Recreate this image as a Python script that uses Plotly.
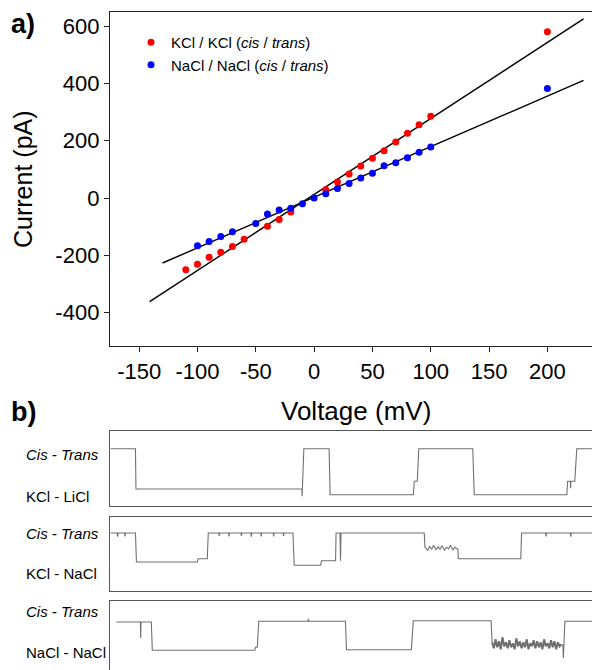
import plotly.graph_objects as go

W, H = 600, 670
FONT = "Arial, Liberation Sans, sans-serif"

# ---------------- Panel a data ----------------
kcl_v = [-110, -100, -90, -80, -70, -60, -40, -30, -20, 10, 20, 30, 40, 50, 60, 70, 80, 90, 100, 200]
kcl_i = [-251, -231, -207, -189, -169, -144, -99, -75, -49, 29, 56, 84, 112, 139, 165, 196, 226, 256, 286, 581]
nacl_v = [-100, -90, -80, -70, -50, -40, -30, -20, -10, 0, 10, 20, 30, 40, 50, 60, 70, 80, 90, 100, 200]
nacl_i = [-167, -152, -134, -118, -89, -56, -42, -36, -20, 0, 15, 33, 51, 70, 87, 113, 123, 141, 160, 178, 383]

kcl_fit_v = [-141, 231]
kcl_fit_i = [-362, 626]
nacl_fit_v = [-130, 231]
nacl_fit_i = [-227, 411]

x_ticks = [-150, -100, -50, 0, 50, 100, 150, 200]
x_ticklabels = ["-150", "-100", "-50", "0", "50", "100", "150", "200"]
y_ticks = [-400, -200, 0, 200, 400, 600]
y_ticklabels = ["-400", "-200", "0", "200", "400", "600"]

# ---------------- Panel b data (time in a.u., current in a.u.) ----------------
t1 = [0.2, 5.2, 5.3, 38.8, 38.85, 38.9, 39.2, 44.3, 44.5, 61.3, 61.5, 62.1, 62.4,
      73.3, 73.6, 92.3, 92.45, 93.0, 93.05, 93.1, 93.9, 94.3, 99.7]
i1 = [57.6, 57.6, 17.3, 17.3, 10, 17.3, 57.6, 57.6, 11.6, 11.6, 25, 25, 57.6,
      57.6, 11.6, 11.6, 25, 25, 18, 25, 25, 57.6, 57.6]

t2 = [0.2, 1.5, 1.6, 1.7, 3.0, 3.1, 3.2, 5.2, 5.4, 17.7, 17.85, 19.7, 19.9,
      22.0, 22.1, 22.2, 24.0, 24.1, 24.2, 26.5, 26.6, 26.7, 28.5, 28.6, 28.7,
      30.5, 30.6, 30.7, 33.0, 33.1, 33.2, 35.0, 35.1, 35.2, 37.0, 37.25, 42.6, 42.75,
      45.6, 45.7, 46.5, 46.6, 46.7, 63.5, 63.65,
      64.2, 64.6, 65.0, 65.4, 65.9, 66.3, 66.7, 67.1, 67.6, 68.0, 68.4, 68.8, 69.3, 69.7, 70.2,
      70.3, 70.4, 83.0, 83.15, 88.0, 88.1, 88.2, 93.0, 93.1, 93.2, 97.6]
i2 = [58.3, 58.3, 54.5, 58.3, 58.3, 55, 58.3, 58.3, 29.3, 29.3, 32.6, 32.6, 58.3,
      58.3, 55.5, 58.3, 58.3, 55, 58.3, 58.3, 55.5, 58.3, 58.3, 54.5, 58.3,
      58.3, 55, 58.3, 58.3, 55, 58.3, 58.3, 55.5, 58.3, 58.3, 26, 26, 30.6,
      30.6, 58.3, 58.3, 30.6, 58.3, 58.3, 44,
      41, 45, 42, 46, 41.5, 44.5, 42, 45.5, 41, 44, 42.5, 46, 41.5, 44, 42,
      42, 32.6, 32.6, 58.3, 58.3, 55, 58.3, 58.3, 54.5, 58.3, 58.3]

t3 = [1.35, 6.2, 6.26, 6.32, 8.4, 8.6, 29.3, 29.45, 29.8, 30.1, 40.0, 40.1, 40.2,
      47.6, 47.8, 60.9, 61.3, 77.0, 77.2]
i3 = [53.3, 53.3, 37.3, 53.3, 53.3, 25, 25, 28, 28, 54, 54, 56.5, 54,
      54, 25.6, 25.6, 54.6, 54.6, 33]

n3_t = [77.2, 77.55, 77.9, 78.25, 78.6, 78.95, 79.3, 79.65, 80.0, 80.35, 80.7, 81.05, 81.4, 81.75,
        82.1, 82.45, 82.8, 83.15, 83.5, 83.85, 84.2, 84.55, 84.9, 85.25, 85.6, 85.95, 86.3, 86.65,
        87.0, 87.35, 87.7, 88.05, 88.4, 88.75, 89.1, 89.45, 89.8, 90.15, 90.5, 90.85, 91.2]
n3_i = [33, 27, 36, 28, 34, 26, 38, 29, 33, 27, 35, 28, 32, 26,
        37, 29, 34, 27, 33, 28, 36, 26, 32, 29, 35, 27, 34, 28,
        33, 26, 36, 29, 32, 27, 35, 28, 34, 26, 33, 29, 31]

t3_end = [91.2, 91.5, 91.6, 91.9, 100]
i3_end = [31, 30, 17.3, 54, 54]

trace_labels_top = ["<i>Cis - Trans</i>", "<i>Cis - Trans</i>", "<i>Cis - Trans</i>"]
trace_labels_salt = ["KCl - LiCl", "KCl - NaCl", "NaCl - NaCl"]


def px_x(p):
    return p / W


def px_y(p):
    return 1 - p / H


fig = go.Figure()

RED = "#ff0000"
BLUE = "#0000ff"

fig.add_trace(go.Scatter(x=kcl_fit_v, y=kcl_fit_i, mode="lines",
                         line=dict(color="black", width=1.4), showlegend=False,
                         xaxis="x", yaxis="y"))
fig.add_trace(go.Scatter(x=nacl_fit_v, y=nacl_fit_i, mode="lines",
                         line=dict(color="black", width=1.4), showlegend=False,
                         xaxis="x", yaxis="y"))
fig.add_trace(go.Scatter(x=kcl_v, y=kcl_i, mode="markers",
                         marker=dict(color=RED, size=7),
                         name="KCl / KCl (<i>cis</i> / <i>trans</i>)",
                         xaxis="x", yaxis="y"))
fig.add_trace(go.Scatter(x=nacl_v, y=nacl_i, mode="markers",
                         marker=dict(color=BLUE, size=7),
                         name="NaCl / NaCl (<i>cis</i> / <i>trans</i>)",
                         xaxis="x", yaxis="y"))

GRAY = "#707070"
series_b = [(t1, i1, 2, 1.1), (t2, i2, 3, 1.1), (t3, i3, 4, 1.1),
            (n3_t, n3_i, 4, 2.0), (t3_end, i3_end, 4, 1.1)]
for tt, ii, n, w in series_b:
    fig.add_trace(go.Scatter(x=tt, y=ii, mode="lines",
                             line=dict(color=GRAY, width=w),
                             showlegend=False,
                             xaxis="x%d" % n, yaxis="y%d" % n))

layout = dict(
    width=W, height=H,
    margin=dict(l=0, r=0, t=0, b=0),
    paper_bgcolor="white", plot_bgcolor="white",
    font=dict(family=FONT, color="black"),
    showlegend=True,
    legend=dict(x=px_x(123), y=px_y(18), xanchor="left", yanchor="top",
                font=dict(size=15, family=FONT), bgcolor="rgba(0,0,0,0)",
                itemwidth=30),
    xaxis=dict(domain=[px_x(102), px_x(597)], range=[-175, 249.4], anchor="y",
               showline=True, mirror=True, linecolor="#222", linewidth=1.4,
               ticks="outside", ticklen=5, tickcolor="#222", tickwidth=1,
               tickvals=x_ticks, ticktext=x_ticklabels,
               tickfont=dict(size=22), showgrid=False, zeroline=False),
    yaxis=dict(domain=[px_y(338), px_y(4)], range=[-517, 650], anchor="x",
               showline=True, mirror=True, linecolor="#222", linewidth=1.4,
               ticks="outside", ticklen=5, tickcolor="#222", tickwidth=1,
               tickvals=y_ticks, ticktext=y_ticklabels,
               tickfont=dict(size=22), showgrid=False, zeroline=False),
)

boxes = [(423.3, 498.3), (509.3, 583.3), (593.3, 667.3)]
for k, (top, bot) in enumerate(boxes):
    n = k + 2
    layout["xaxis%d" % n] = dict(domain=[px_x(101.7), px_x(597)], range=[0, 100],
                                 anchor="y%d" % n, showline=True, mirror=True,
                                 linecolor="#555", linewidth=1, showticklabels=False,
                                 ticks="", showgrid=False, zeroline=False)
    layout["yaxis%d" % n] = dict(domain=[px_y(bot), px_y(top)], range=[0, bot - top],
                                 anchor="x%d" % n, showline=True, mirror=True,
                                 linecolor="#555", linewidth=1, showticklabels=False,
                                 ticks="", showgrid=False, zeroline=False)

fig.update_layout(**layout)

annotations = [
    dict(text="<b>a)</b>", x=px_x(1), y=px_y(16), xanchor="left", yanchor="middle",
         font=dict(size=27)),
    dict(text="<b>b)</b>", x=px_x(1), y=px_y(404), xanchor="left", yanchor="middle",
         font=dict(size=27)),
    dict(text="Current (pA)", x=px_x(15), y=px_y(171), xanchor="center", yanchor="middle",
         textangle=-90, font=dict(size=25)),
    dict(text="Voltage (mV)", x=px_x(348), y=px_y(403), xanchor="center", yanchor="middle",
         font=dict(size=26)),
]
top_y = [447, 525, 603]
salt_y = [488, 565, 644]
for k in range(3):
    annotations.append(dict(text=trace_labels_top[k], x=px_x(16), y=px_y(top_y[k]),
                            xanchor="left", yanchor="middle", font=dict(size=15)))
    annotations.append(dict(text=trace_labels_salt[k], x=px_x(16), y=px_y(salt_y[k]),
                            xanchor="left", yanchor="middle", font=dict(size=15)))
for a in annotations:
    a.update(xref="paper", yref="paper", showarrow=False)
fig.update_layout(annotations=annotations)

fig.write_html("out.html")
